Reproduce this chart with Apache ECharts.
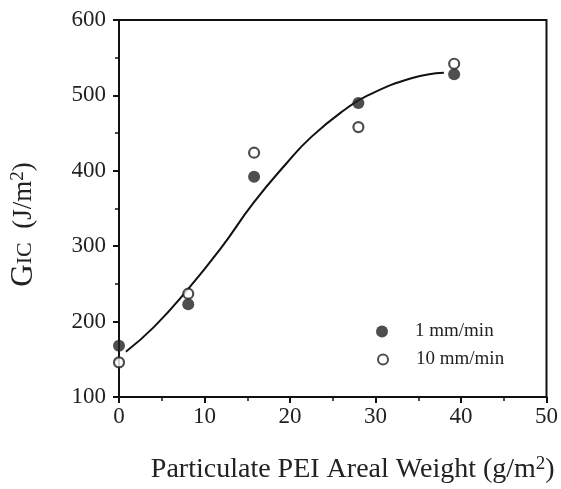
<!DOCTYPE html>
<html>
<head>
<meta charset="utf-8">
<script src="https://cdn.jsdelivr.net/npm/echarts@6/dist/echarts.min.js"></script>
<style>
html,body{margin:0;padding:0;background:#fff;}
#c{width:561px;height:489px;}
</style>
</head>
<body>
<div id="c"></div>
<script>
// Data
var weights = [0, 8.1, 15.8, 28, 39.2];
var rate1 = [168, 223, 392, 490, 528];   // 1 mm/min (filled)
var rate10 = [146, 237, 424, 458, 542];  // 10 mm/min (open)
var fitX = [0.8, 4.1, 8.0, 11.9, 15.7, 19.6, 22.5, 26.4, 29.1, 34.3, 38.0];
var fitY = [160, 193, 242, 297, 357, 410, 445, 481, 500, 523, 530];
var xTicks = [0, 10, 20, 30, 40, 50];
var yTicks = [100, 200, 300, 400, 500, 600];

function pairs(xs, ys){ return xs.map(function(x,i){ return [x, ys[i]]; }); }

var serif = '"Liberation Serif", "DejaVu Serif", serif';
var chart = echarts.init(document.getElementById('c'));
chart.setOption({
  animation: false,
  backgroundColor: '#fff',
  grid: {left: 118, right: 13, top: 20, bottom: 92, show: true, borderColor: '#111', borderWidth: 2},
  legend: [
    {
      left: 376, top: 322, padding: 0, itemWidth: 12, itemHeight: 12,
      textStyle: {fontFamily: serif, fontSize: 19, color: '#222', padding: [0,0,6,22]},
      data: [{name: '1 mm/min', icon: 'circle'}]
    },
    {
      left: 377, top: 350, padding: 0, itemWidth: 10, itemHeight: 10,
      textStyle: {fontFamily: serif, fontSize: 19, color: '#222', padding: [12,0,0,23]},
      data: [{name: '10 mm/min', icon: 'circle'}]
    }
  ],
  xAxis: {
    type: 'value', min: xTicks[0], max: xTicks[xTicks.length-1], interval: 10,
    axisLine: {show: true, onZero: false, lineStyle: {color: '#111', width: 2}},
    axisTick: {show: true, length: 6, lineStyle: {color: '#111', width: 2}},
    minorTick: {show: true, splitNumber: 2, length: 4, lineStyle: {color: '#111', width: 1.5}},
    splitLine: {show: false},
    axisLabel: {fontFamily: serif, fontSize: 23, color: '#222', margin: 8},
    name: '{t|Particulate PEI Areal Weight (g/m}{s|2}{t|)}',
    nameLocation: 'middle', nameGap: 58,
    nameTextStyle: {padding: [0,0,0,40], rich: {
      t: {fontFamily: serif, fontSize: 28, color: '#222'},
      s: {fontFamily: serif, fontSize: 19, color: '#222', padding: [0,0,10,0]}
    }}
  },
  yAxis: {
    type: 'value', min: yTicks[0], max: yTicks[yTicks.length-1], interval: 100,
    axisLine: {show: true, lineStyle: {color: '#111', width: 2}},
    axisTick: {show: true, length: 6, lineStyle: {color: '#111', width: 2}},
    minorTick: {show: true, splitNumber: 2, length: 4, lineStyle: {color: '#111', width: 1.5}},
    splitLine: {show: false},
    axisLabel: {fontFamily: serif, fontSize: 23, color: '#222', margin: 13},
    name: '{g|G}{i|IC}{t|  (J/m}{s|2}{t|)}',
    nameLocation: 'middle', nameGap: 80,
    nameTextStyle: {padding: [0,32,0,0], rich: {
      g: {fontFamily: serif, fontSize: 31, color: '#222'},
      i: {fontFamily: serif, fontSize: 22, color: '#222', padding: [4,0,0,0]},
      t: {fontFamily: serif, fontSize: 27, color: '#222'},
      s: {fontFamily: serif, fontSize: 19, color: '#222', padding: [0,0,10,0]}
    }}
  },
  series: [
    {
      name: 'fit', type: 'line', data: pairs(fitX, fitY), smooth: 0.5, showSymbol: false,
      lineStyle: {color: '#111', width: 2}, z: 1
    },
    {
      name: '1 mm/min', type: 'scatter', data: pairs(weights, rate1), symbol: 'circle', symbolSize: 12,
      itemStyle: {color: '#222'}, z: 3
    },
    {
      name: '10 mm/min', type: 'scatter', data: pairs(weights, rate10), symbol: 'circle', symbolSize: 10,
      itemStyle: {color: '#fff', borderColor: '#222', borderWidth: 2.2}, z: 3
    }
  ]
});
</script>
</body>
</html>
